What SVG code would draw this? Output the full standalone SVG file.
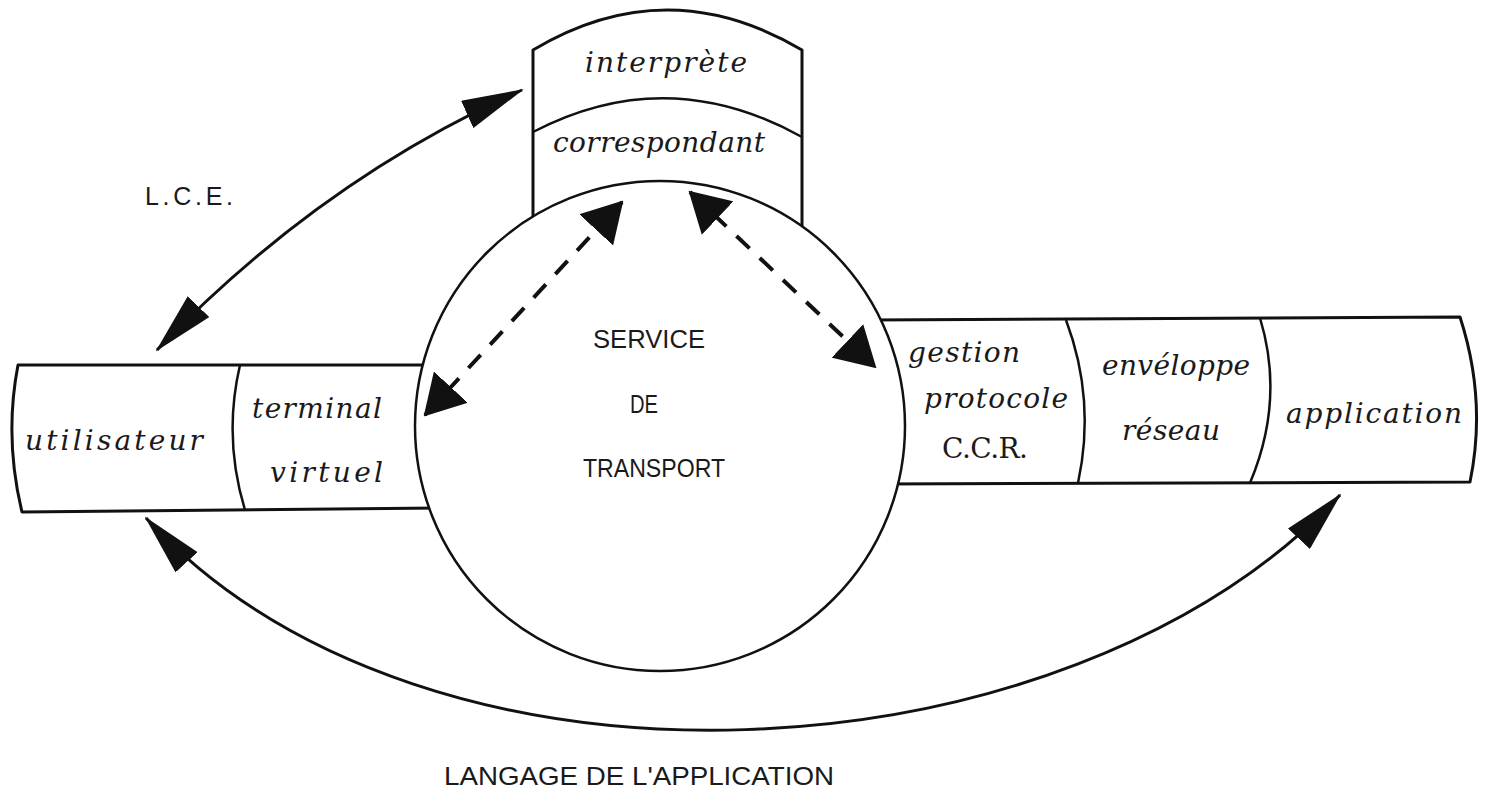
<svg xmlns="http://www.w3.org/2000/svg" width="1487" height="794" viewBox="0 0 1487 794">
<style>
.box{fill:#fff;stroke:#111;stroke-width:3;stroke-linejoin:round}
.div{fill:none;stroke:#111;stroke-width:2.5}
.circ{fill:#fff;stroke:#111;stroke-width:2.5}
.scr{font-family:"DejaVu Serif","Liberation Serif",serif;font-style:italic;font-size:28px;fill:#1a1a1a}
.upr{font-style:normal}
.up{font-family:"Liberation Sans","DejaVu Sans",sans-serif;font-size:25px;fill:#1a1a1a}
.solid{fill:none;stroke:#111;stroke-width:3}
.dash{fill:none;stroke:#111;stroke-width:4;stroke-dasharray:18 14}
</style>
<defs>
<marker id="ah" markerUnits="userSpaceOnUse" viewBox="0 0 62 30" refX="60" refY="15" markerWidth="62" markerHeight="30" orient="auto-start-reverse">
<path d="M0,0 L62,15 L0,30 z" fill="#111"/>
</marker>
<marker id="ahd" markerUnits="userSpaceOnUse" viewBox="0 0 40 46" refX="38" refY="23" markerWidth="40" markerHeight="46" orient="auto-start-reverse">
<path d="M0,0 L40,23 L0,46 z" fill="#111"/>
</marker>
</defs>
<rect width="1487" height="794" fill="#fff"/>

<g id="node-top">
<path class="box" d="M533 235 L533 50 Q667 -30 802 50 L802 240"/>
<path class="div" d="M533 132 Q667 62 802 137"/>
<text class="scr" x="585" y="72" textLength="162">interprète</text>
<text class="scr" x="553" y="152" textLength="212">correspondant</text>
</g>

<g id="node-left">
<path class="box" d="M440 365 L18 365 Q4 438 22 512 L440 508"/>
<path class="div" d="M240 365 Q223 438 245 510"/>
<text class="scr" x="25" y="450" textLength="178">utilisateur</text>
<text class="scr" x="252" y="418" textLength="130">terminal</text>
<text class="scr" x="270" y="482" textLength="113">virtuel</text>
</g>

<g id="node-right">
<path class="box" d="M870 320 L1460 317 Q1487 400 1470 482 L880 484"/>
<path class="div" d="M1066 320 Q1096 400 1078 483"/>
<path class="div" d="M1260 318 Q1285 400 1250 483"/>
<text class="scr" x="908" y="362" textLength="112">gestion</text>
<text class="scr" x="924" y="408" textLength="144">protocole</text>
<text class="scr upr" x="942" y="458" textLength="86">C.C.R.</text>
<text class="scr" x="1102" y="375" textLength="148">envéloppe</text>
<text class="scr" x="1122" y="440" textLength="98">réseau</text>
<text class="scr" x="1286" y="423" textLength="176">application</text>
</g>

<g id="node-service">
<circle class="circ" cx="660" cy="426" r="245"/>
<text class="up" x="593" y="348" textLength="112" lengthAdjust="spacingAndGlyphs">SERVICE</text>
<text class="up" x="630" y="413" textLength="28" lengthAdjust="spacingAndGlyphs">DE</text>
<text class="up" x="583" y="477" textLength="142" lengthAdjust="spacingAndGlyphs">TRANSPORT</text>
</g>

<g id="connectors">
<path class="solid" d="M157 350 Q320 180 522 90" marker-start="url(#ah)" marker-end="url(#ah)"/>
<path class="solid" d="M146 518 C425 822 1067 786 1340 495" marker-start="url(#ah)" marker-end="url(#ah)"/>
<path class="dash" d="M425 415 L622 202" marker-start="url(#ahd)" marker-end="url(#ahd)"/>
<path class="dash" d="M690 192 L875 367" marker-start="url(#ahd)" marker-end="url(#ahd)"/>
</g>

<g id="labels">
<text class="up" x="145" y="205" textLength="88">L.C.E.</text>
<text class="up" x="444" y="785" textLength="390" lengthAdjust="spacingAndGlyphs">LANGAGE DE L'APPLICATION</text>
</g>
</svg>
